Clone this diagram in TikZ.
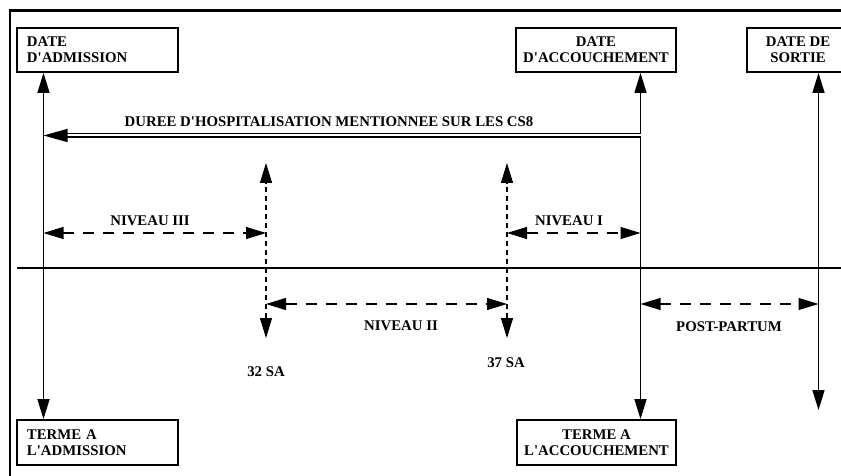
\documentclass[tikz,border=0pt]{standalone}
\usepackage{fontspec}
\setmainfont{Liberation Serif}[Ligatures=TeXOff]
\usetikzlibrary{arrows.meta}
\begin{document}
\begin{tikzpicture}[x=1pt,y=-1pt,
  every node/.style={font=\bfseries\fontsize{14.8}{16}\selectfont},
  datebox/.style={draw,line width=1.8pt,inner sep=0pt,minimum height=44pt},
  leftbox/.style={datebox,minimum width=161pt,text width=141pt,align=left},
  centerbox/.style={datebox,align=center},
  lbl/.style={anchor=base,inner sep=0pt},
  tip/.style={-{Triangle[length=24pt,width=13pt]}},
  span/.style={{Triangle[length=20pt,width=12pt]}-{Triangle[length=20pt,width=12pt]},line width=1.5pt},
  dspan/.style={span,line width=1.2pt,dash pattern=on 11pt off 9pt},
  vdash/.style={span,line width=1.1pt,dash pattern=on 5pt off 4pt},
  frame/.style={line width=2.8pt},
  axis/.style={line width=1.6pt}]
\useasboundingbox (0,0) rectangle (841,476);

% outer frame (left and top edges)
\draw[frame] (10,476) -- (10,10.5) -- (841,10.5);

% date boxes
\node[leftbox] (adm) at (97.5,50) {DATE\\D'ADMISSION};
\node[centerbox,minimum width=160pt] (acc) at (596,50) {DATE\\D'ACCOUCHEMENT};
\node[centerbox,minimum width=102pt] (sor) at (798,50) {DATE DE\\SORTIE};
\node[leftbox,minimum height=45pt] (tadm) at (97.5,442.5) {TERME A\\L'ADMISSION};
\node[centerbox,minimum width=159pt,minimum height=45pt] (tacc) at (596.5,442.5) {TERME A\\L'ACCOUCHEMENT};

% reference columns on the time axis
\coordinate (va) at (43.5,268);
\coordinate (d32) at (266,268);
\coordinate (d37) at (507,268);
\coordinate (vb) at (640.5,268);
\coordinate (vc) at (818.5,268);
\coordinate (vcend) at (818.5,410);

% time axis
\coordinate (axl) at (17,268);
\coordinate (axr) at (841,268);
\draw[axis] (axl) -- (axr);

% solid vertical spans
\draw[span] (adm.south -| va) -- (tadm.north -| va);
\draw[span] (acc.south -| vb) -- (tacc.north -| vb);
\draw[span] (sor.south -| vc) -- (vcend);

% dashed week markers
\coordinate (d32t) at (266,163);
\coordinate (d32b) at (266,338);
\coordinate (d37t) at (507,163);
\coordinate (d37b) at (507,338);
\draw[vdash] (d32b) -- (d32t);
\draw[vdash] (d37b) -- (d37t);
\node[lbl] (s32) at (266,376) {32 SA};
\node[lbl] (s37) at (506,367) {37 SA};

% hospital stay as recorded
\coordinate (hl) at (0,135.5);
\draw[line width=1.3pt,double,double distance=2pt,tip] (vb |- hl) -- (va |- hl);
\node[lbl] (dur) at (329,127) {DUREE D'HOSPITALISATION MENTIONNEE SUR LES CS8};

% level spans
\coordinate (r1) at (0,233);
\coordinate (r2) at (0,304);
\draw[dspan] (va |- r1) -- (d32 |- r1);
\node[lbl] (n3) at (150,225) {NIVEAU III};
\draw[dspan] (d37 |- r1) -- (vb |- r1);
\node[lbl] (n1) at (569,225) {NIVEAU I};
\draw[dspan] (d32 |- r2) -- (d37 |- r2);
\node[lbl] (n2) at (401,330) {NIVEAU II};
\draw[dspan] (vb |- r2) -- (vc |- r2);
\node[lbl] (pp) at (729,331) {POST-PARTUM};
\end{tikzpicture}
\end{document}
